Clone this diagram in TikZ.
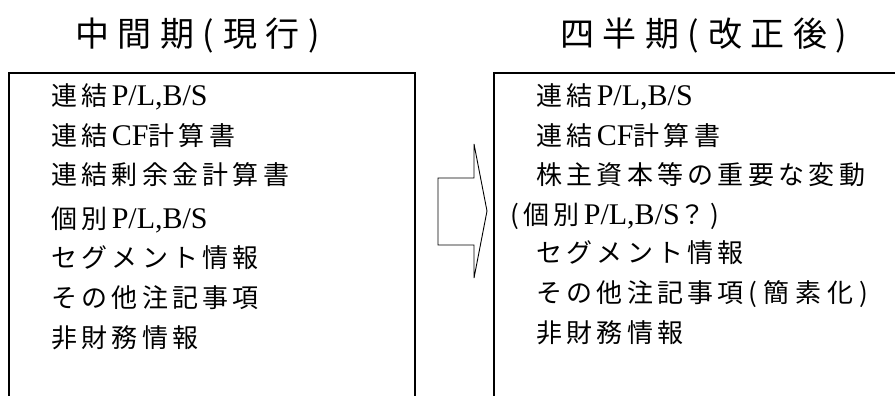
\documentclass[tikz,border=0pt]{standalone}
\usepackage{fontspec}
\newfontfamily\jp{Noto Sans CJK JP}
\newfontfamily\lat{Liberation Serif}
\newcommand{\latin}[1]{{\lat\fontsize{30}{34}\selectfont #1}}
\makeatletter
\newcommand\spc[2]{\def\sp@k{#1}\sp@loop#2\@nil}
\def\sp@loop#1{\ifx#1\@nil\else#1\kern\sp@k\expandafter\sp@loop\fi}
\makeatother
\newcommand{\ttl}[1]{\spc{8.6pt}{#1}}
\newcommand{\bd}[1]{\spc{4.3pt}{#1}}
\begin{document}
\begin{tikzpicture}[x=1pt,y=-1pt,
  title/.style={anchor=base west,inner sep=0pt,font=\jp\fontsize{34}{38}\selectfont},
  item/.style={anchor=base west,inner sep=0pt,font=\jp\fontsize{26}{30}\selectfont},
  frame/.style={draw=black,line width=1.1pt},
  bigarrow/.style={draw=black,line width=0.9pt,line join=miter}]
\useasboundingbox (0,0) rectangle (895,396);
\clip (0,0) rectangle (895,396);
\fill[white] (0,0) rectangle (895,396);
% titles
\node[title] (t1) at (75,47) {\ttl{中間期(現行)}};
\node[title] (t2) at (560,47) {\ttl{四半期(改正後)}};
% boxes
\draw[frame] (9,420) -- (9,73) -- (415,73) -- (415,420);
\draw[frame] (494,420) -- (494,73) -- (920,73);
% arrow
\draw[bigarrow] (438,178) -- (474,178) -- (474,144) -- (487,211) -- (474,278) -- (474,245) -- (438,245) -- cycle;
% left items
\node[item] (a1) at (51,106) {\bd{連結}\latin{P/L,B/S}};
\node[item] (a2) at (51,145) {\bd{連結}\latin{CF}\bd{計算書}};
\node[item] (a3) at (51,184) {\bd{連結剰余金計算書}};
\node[item] (a4) at (51,228) {\bd{個別}\latin{P/L,B/S}};
\node[item] (a5) at (51,267) {\bd{セグメント情報}};
\node[item] (a6) at (51,307) {\bd{その他注記事項}};
\node[item] (a7) at (51,347) {\bd{非財務情報}};
% right items
\node[item] (b1) at (536,106) {\bd{連結}\latin{P/L,B/S}};
\node[item] (b2) at (536,145) {\bd{連結}\latin{CF}\bd{計算書}};
\node[item] (b3) at (536,184) {\bd{株主資本等の重要な変動}};
\node[item] (b4) at (510,224) {\bd{(個別}\latin{P/L,B/S}\bd{？)}};
\node[item] (b5) at (536,262) {\bd{セグメント情報}};
\node[item] (b6) at (536,302) {\bd{その他注記事項}\spc{6pt}{(簡素化)}};
\node[item] (b7) at (536,342) {\bd{非財務情報}};
\end{tikzpicture}
\end{document}
